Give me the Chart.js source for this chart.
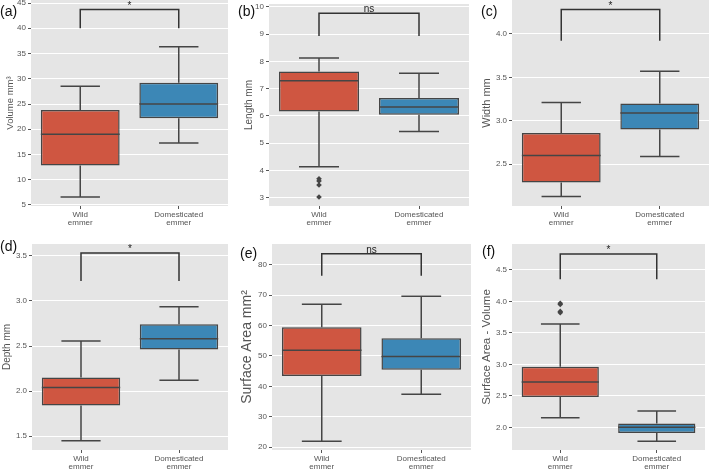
<!DOCTYPE html>
<html>
<head>
<meta charset="utf-8">
<script src="https://cdn.jsdelivr.net/npm/chart.js@4.4.1/dist/chart.umd.min.js"></script>
<style>
  html, body { margin: 0; padding: 0; background: #fff; }
  #figure { position: relative; width: 709px; height: 470px; overflow: hidden; font-family: "Liberation Sans", Arial, sans-serif; }
  #figure canvas { position: absolute; }
  .tag { position: absolute; font-size: 14px; line-height: 14px; color: #111; }
</style>
</head>
<body>
<div id="figure">
  <canvas id="chartA" width="230" height="235" style="left:0px;top:0px"></canvas>
  <canvas id="chartB" width="237" height="235" style="left:236px;top:0px"></canvas>
  <canvas id="chartC" width="233" height="235" style="left:476px;top:0px"></canvas>
  <canvas id="chartD" width="230" height="235" style="left:0px;top:235px"></canvas>
  <canvas id="chartE" width="237" height="235" style="left:236px;top:235px"></canvas>
  <canvas id="chartF" width="233" height="235" style="left:476px;top:235px"></canvas>
  <div class="tag" style="left:0px;top:4px">(a)</div>
  <div class="tag" style="left:238px;top:4px">(b)</div>
  <div class="tag" style="left:481px;top:4px">(c)</div>
  <div class="tag" style="left:0px;top:239px">(d)</div>
  <div class="tag" style="left:240px;top:246px">(e)</div>
  <div class="tag" style="left:482px;top:244px">(f)</div>
</div>
<script>
const categories = ['Wild emmer', 'Domesticated emmer'];

// each box: lower whisker, Q1, median, Q3, upper whisker
const volumeWild = [6.6, 12.8, 19.0, 23.8, 28.5];
const volumeDomesticated = [17.3, 22.2, 25.0, 29.2, 36.35];
const volumeTicks = [5, 10, 15, 20, 25, 30, 35, 40, 45];
const volumeBracket = [40, 43.7];

const lengthWild = [4.14, 6.16, 7.29, 7.63, 8.12];
const lengthDomesticated = [5.43, 6.04, 6.33, 6.66, 7.56];
const lengthWildOutliers = [3.70, 3.62, 3.47, 3.03];
const lengthTicks = [3, 4, 5, 6, 7, 8, 9, 10];
const lengthBracket = [8.93, 9.76];

const widthWild = [2.13, 2.29, 2.60, 2.86, 3.21];
const widthDomesticated = [2.59, 2.90, 3.09, 3.20, 3.57];
const widthTicks = [2.5, 3.0, 3.5, 4.0];
const widthBracket = [3.92, 4.28];

const depthWild = [1.45, 1.84, 2.04, 2.15, 2.555];
const depthDomesticated = [2.12, 2.46, 2.58, 2.74, 2.935];
const depthTicks = [1.5, 2.0, 2.5, 3.0, 3.5];
const depthBracket = [3.22, 3.53];

const areaWild = [22.0, 43.4, 51.9, 59.4, 67.0];
const areaDomesticated = [37.4, 45.5, 49.8, 55.8, 69.6];
const areaTicks = [20, 30, 40, 50, 60, 70, 80];
const areaBracket = [76.4, 83.6];

const ratioWild = [2.15, 2.48, 2.72, 2.96, 3.64];
const ratioDomesticated = [1.78, 1.91, 2.00, 2.06, 2.26];
const ratioWildOutliers = [3.97, 3.95, 3.84, 3.82];
const ratioTicks = [2.0, 2.5, 3.0, 3.5, 4.0, 4.5];
const ratioBracket = [4.35, 4.75];

const RED = '#CF5641';
const BLUE = '#3C87B6';
const EDGE = '#454545';
const TEXT = '#555555';

Chart.defaults.font.family = '"Liberation Sans", Arial, sans-serif';

const boxExtras = {
    id: 'boxExtras',
    beforeDraw(chart) {
        const a = chart.chartArea;
        const ctx = chart.ctx;
        ctx.save();
        ctx.fillStyle = '#E5E5E5';
        ctx.fillRect(a.left, a.top, a.right - a.left, a.bottom - a.top);
        ctx.restore();
    },
    afterDatasetsDraw(chart, args, opts) {
        const x = chart.scales.x, y = chart.scales.y, ctx = chart.ctx;
        const step = x.getPixelForValue(1) - x.getPixelForValue(0);
        const boxHalf = step * 0.4, capHalf = step * 0.2;
        ctx.save();
        ctx.strokeStyle = EDGE;
        ctx.lineWidth = 1.5;
        opts.stats.forEach(function (s, i) {
            const cx = x.getPixelForValue(i);
            ctx.beginPath();
            ctx.moveTo(cx, y.getPixelForValue(s[1]));
            ctx.lineTo(cx, y.getPixelForValue(s[0]));
            ctx.moveTo(cx - capHalf, y.getPixelForValue(s[0]));
            ctx.lineTo(cx + capHalf, y.getPixelForValue(s[0]));
            ctx.moveTo(cx, y.getPixelForValue(s[3]));
            ctx.lineTo(cx, y.getPixelForValue(s[4]));
            ctx.moveTo(cx - capHalf, y.getPixelForValue(s[4]));
            ctx.lineTo(cx + capHalf, y.getPixelForValue(s[4]));
            ctx.moveTo(cx - boxHalf, y.getPixelForValue(s[2]));
            ctx.lineTo(cx + boxHalf, y.getPixelForValue(s[2]));
            ctx.stroke();
        });

        // significance bracket
        const x0 = x.getPixelForValue(0), x1 = x.getPixelForValue(1);
        const yb = y.getPixelForValue(opts.bracket[0]), yt = y.getPixelForValue(opts.bracket[1]);
        ctx.strokeStyle = '#333';
        ctx.beginPath();
        ctx.moveTo(x0, yb);
        ctx.lineTo(x0, yt);
        ctx.lineTo(x1, yt);
        ctx.lineTo(x1, yb);
        ctx.stroke();
        ctx.fillStyle = '#222';
        ctx.font = '10px "Liberation Sans", Arial';
        ctx.textAlign = 'center';
        ctx.textBaseline = 'alphabetic';
        ctx.fillText(opts.label, (x0 + x1) / 2, yt - 1);
        ctx.restore();
    }
};

function createBoxChart(p) {
    const ctx = document.getElementById(p.id);
    const datasets = [{
        type: 'bar',
        data: [[p.wild[1], p.wild[3]], [p.dom[1], p.dom[3]]],
        backgroundColor: [RED, BLUE],
        borderColor: EDGE,
        borderWidth: 1.5,
        borderSkipped: false,
        barPercentage: 0.8,
        categoryPercentage: 1
    }];
    if (p.outliers) {
        datasets.push({
            type: 'line',
            data: p.outliers.map(v => ({ x: categories[0], y: v })),
            showLine: false,
            pointStyle: 'rectRot',
            pointRadius: 2.8,
            pointBorderWidth: 0,
            backgroundColor: EDGE,
            borderColor: EDGE
        });
    }

    new Chart(ctx, {
        type: 'bar',
        data: { labels: categories, datasets: datasets },
        plugins: [boxExtras],
        options: {
            responsive: false,
            animation: false,
            layout: { padding: { top: p.padTop, right: p.padRight, left: 0, bottom: 0 } },
            plugins: {
                legend: { display: false },
                tooltip: { enabled: false },
                boxExtras: { stats: [p.wild, p.dom], bracket: p.bracket, label: p.label }
            },
            scales: {
                x: {
                    offset: true,
                    afterFit: s => { s.height = p.xh; },
                    grid: { display: true, drawOnChartArea: false, offset: false, tickColor: TEXT, tickLength: 3 },
                    border: { display: false },
                    ticks: {
                        color: TEXT, font: { size: 8, lineHeight: 0.95 }, padding: 2, maxRotation: 0, autoSkip: false,
                        callback: (v, i) => categories[i].split(' ')
                    }
                },
                y: {
                    min: p.min,
                    max: p.max,
                    afterBuildTicks: s => { s.ticks = p.ticks.map(v => ({ value: v })); },
                    afterFit: s => { s.width = p.yw; s.paddingTop = 0; s.paddingBottom = 0; },
                    grid: { color: '#FFFFFF', lineWidth: 1, tickColor: TEXT, tickLength: 3 },
                    border: { display: false },
                    ticks: {
                        color: TEXT, font: { size: 8 }, padding: 2,
                        callback: v => v.toFixed(p.decimals)
                    },
                    title: {
                        display: true, text: p.title, color: TEXT,
                        font: { size: p.titleSize }, padding: { top: p.titlePad, bottom: 0 }
                    }
                }
            }
        }
    });
}

createBoxChart({ id: 'chartA', wild: volumeWild, dom: volumeDomesticated, ticks: volumeTicks, bracket: volumeBracket, label: '*',
    min: 4.8, max: 45.6, decimals: 0, title: 'Volume mm³', titleSize: 9.5, titlePad: 4.3, yw: 31, xh: 29, padTop: 0, padRight: 2 });
createBoxChart({ id: 'chartB', wild: lengthWild, dom: lengthDomesticated, outliers: lengthWildOutliers, ticks: lengthTicks, bracket: lengthBracket, label: 'ns',
    min: 2.7, max: 10.1, decimals: 0, title: 'Length mm', titleSize: 10, titlePad: 7, yw: 33, xh: 29, padTop: 0, padRight: 2 });
createBoxChart({ id: 'chartC', wild: widthWild, dom: widthDomesticated, ticks: widthTicks, bracket: widthBracket, label: '*',
    min: 2.02, max: 4.39, decimals: 1, title: 'Width mm', titleSize: 11, titlePad: 3.9, yw: 36, xh: 29, padTop: 0, padRight: 0 });
createBoxChart({ id: 'chartD', wild: depthWild, dom: depthDomesticated, ticks: depthTicks, bracket: depthBracket, label: '*',
    min: 1.348, max: 3.63, decimals: 1, title: 'Depth mm', titleSize: 10, titlePad: 1, yw: 32, xh: 20, padTop: 9, padRight: 2 });
createBoxChart({ id: 'chartE', wild: areaWild, dom: areaDomesticated, ticks: areaTicks, bracket: areaBracket, label: 'ns',
    min: 19.1, max: 86.8, decimals: 0, title: 'Surface Area mm²', titleSize: 14, titlePad: 3.1, yw: 36, xh: 20, padTop: 9, padRight: 2 });
createBoxChart({ id: 'chartF', wild: ratioWild, dom: ratioDomesticated, outliers: ratioWildOutliers, ticks: ratioTicks, bracket: ratioBracket, label: '*',
    min: 1.64, max: 4.91, decimals: 1, title: 'Surface Area - Volume', titleSize: 11.5, titlePad: 4.1, yw: 36, xh: 20, padTop: 9, padRight: 0 });
</script>
</body>
</html>
